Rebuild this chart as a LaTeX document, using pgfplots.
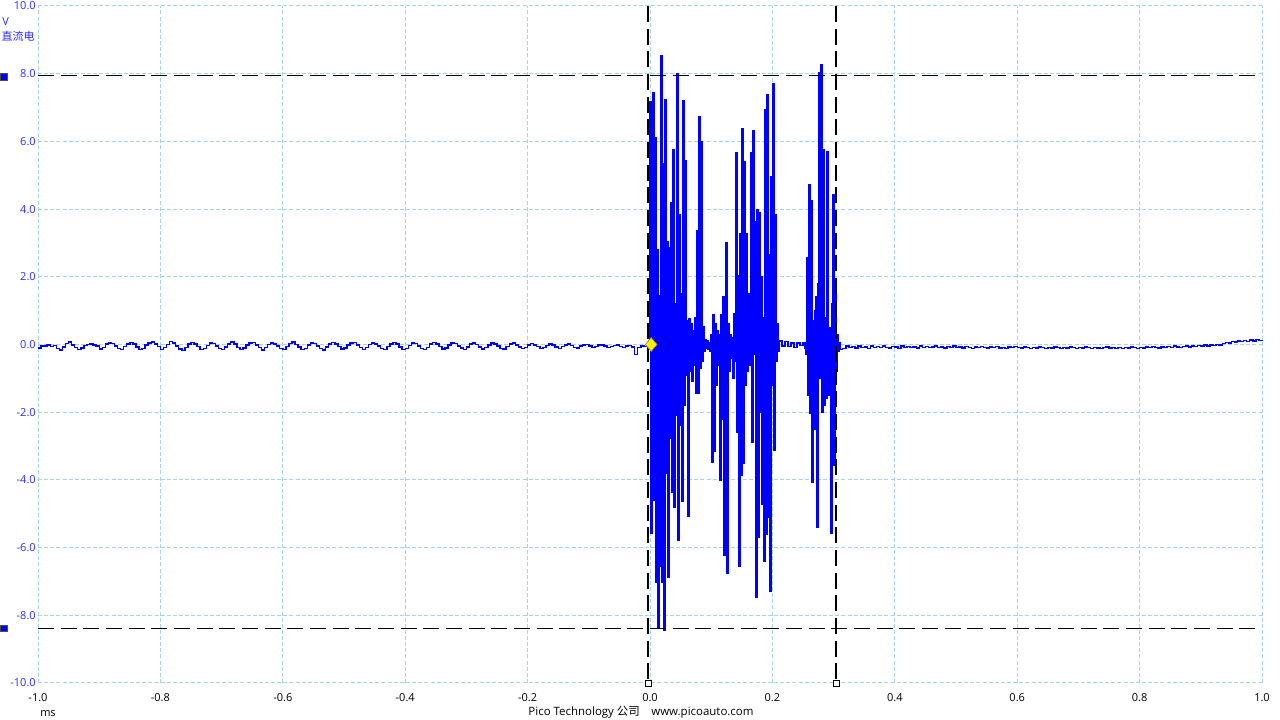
\documentclass[border=0pt]{standalone}
\usepackage{fontspec}
\setmainfont{Open Sans}
\newfontfamily\cjk{Noto Sans CJK SC}
\usepackage{pgfplots}
\pgfplotsset{compat=1.18}
\usetikzlibrary{shapes.geometric}
\definecolor{gridblue}{RGB}{165,212,228}
\definecolor{ticblue}{RGB}{45,45,255}
\definecolor{trace}{RGB}{0,0,255}
\begin{document}
\begin{tikzpicture}
\path[use as bounding box, fill=white] (0,0) rectangle (960pt,540pt);
\begin{axis}[
  at={(28.5pt,27.75pt)}, anchor=south west, scale only axis,
  width=918pt, height=507.75pt,
  xmin=-1, xmax=1, ymin=-10, ymax=10,
  axis line style={draw=none},
  major tick length=0pt,
  xtick={-1,-0.8,-0.6,-0.4,-0.2,0,0.2,0.4,0.6,0.8,1},
  xticklabels={-1.0,-0.8,-0.6,-0.4,-0.2,0.0,0.2,0.4,0.6,0.8,1.0},
  ytick={-10,-8,-6,-4,-2,0,2,4,6,8,10},
  yticklabels={-10.0,-8.0,-6.0,-4.0,-2.0,0.0,2.0,4.0,6.0,8.0,10.0},
  grid=major,
  major grid style={gridblue, line width=0.75pt, dash pattern=on 3pt off 1.6pt},
  tick label style={font=\fontsize{8.25}{10}\selectfont},
  yticklabel style={text=ticblue, inner sep=1.5pt},
  xticklabel style={text=black, yshift=-4pt},
  clip=false,
]
\addplot[trace, line width=1.05pt, const plot, mark=none] coordinates {
(-1.000,-0.10) (-0.995,-0.05) (-0.990,-0.04) (-0.985,-0.02) (-0.980,-0.06) (-0.975,-0.03) (-0.970,-0.11) (-0.965,-0.16) (-0.960,-0.07) (-0.955,0.03)
(-0.950,0.07) (-0.945,-0.01) (-0.940,-0.09) (-0.935,-0.15) (-0.930,-0.10) (-0.925,-0.03) (-0.920,0.00) (-0.915,0.02) (-0.910,-0.01) (-0.905,-0.05)
(-0.900,-0.13) (-0.895,-0.08) (-0.890,0.01) (-0.885,0.05) (-0.880,0.03) (-0.875,-0.04) (-0.870,-0.12) (-0.865,-0.15) (-0.860,-0.06) (-0.855,0.02)
(-0.850,0.06) (-0.845,0.01) (-0.840,-0.07) (-0.835,-0.14) (-0.830,-0.11) (-0.825,-0.02) (-0.820,0.04) (-0.815,0.07) (-0.810,0.02) (-0.805,-0.06)
(-0.800,-0.14) (-0.795,-0.09) (-0.790,0.00) (-0.785,0.08) (-0.780,0.04) (-0.775,-0.05) (-0.770,-0.13) (-0.765,-0.17) (-0.760,-0.08) (-0.755,0.01)
(-0.750,0.06) (-0.745,0.02) (-0.740,-0.06) (-0.735,-0.15) (-0.730,-0.12) (-0.725,-0.03) (-0.720,0.05) (-0.715,0.03) (-0.710,-0.04) (-0.705,-0.11)
(-0.700,-0.15) (-0.695,-0.07) (-0.690,0.02) (-0.685,0.07) (-0.680,0.01) (-0.675,-0.08) (-0.670,-0.14) (-0.665,-0.10) (-0.660,-0.02) (-0.655,0.04)
(-0.650,0.06) (-0.645,-0.01) (-0.640,-0.09) (-0.635,-0.16) (-0.630,-0.09) (-0.625,0.00) (-0.620,0.05) (-0.615,0.02) (-0.610,-0.05) (-0.605,-0.12)
(-0.600,-0.14) (-0.595,-0.06) (-0.590,0.03) (-0.585,0.07) (-0.580,0.00) (-0.575,-0.07) (-0.570,-0.15) (-0.565,-0.11) (-0.560,-0.02) (-0.555,0.05)
(-0.550,0.03) (-0.545,-0.04) (-0.540,-0.11) (-0.535,-0.16) (-0.530,-0.07) (-0.525,0.01) (-0.520,0.06) (-0.515,0.02) (-0.510,-0.06) (-0.505,-0.13)
(-0.500,-0.10) (-0.495,-0.02) (-0.490,0.04) (-0.485,0.06) (-0.480,-0.01) (-0.475,-0.08) (-0.470,-0.15) (-0.465,-0.09) (-0.460,0.00) (-0.455,0.05)
(-0.450,0.02) (-0.445,-0.05) (-0.440,-0.12) (-0.435,-0.14) (-0.430,-0.06) (-0.425,0.02) (-0.420,0.06) (-0.415,0.01) (-0.410,-0.07) (-0.405,-0.14)
(-0.400,-0.11) (-0.395,-0.03) (-0.390,0.04) (-0.385,0.03) (-0.380,-0.04) (-0.375,-0.11) (-0.370,-0.15) (-0.365,-0.08) (-0.360,0.01) (-0.355,0.06)
(-0.350,0.02) (-0.345,-0.06) (-0.340,-0.13) (-0.335,-0.10) (-0.330,-0.02) (-0.325,0.05) (-0.320,0.03) (-0.315,-0.04) (-0.310,-0.10) (-0.305,-0.14)
(-0.300,-0.07) (-0.295,0.01) (-0.290,0.05) (-0.285,0.00) (-0.280,-0.07) (-0.275,-0.13) (-0.270,-0.09) (-0.265,-0.02) (-0.260,0.04) (-0.255,0.02)
(-0.250,-0.05) (-0.245,-0.11) (-0.240,-0.13) (-0.235,-0.06) (-0.230,0.01) (-0.225,0.04) (-0.220,-0.01) (-0.215,-0.07) (-0.210,-0.12) (-0.205,-0.08)
(-0.200,-0.02) (-0.195,0.03) (-0.190,-0.01) (-0.185,-0.06) (-0.180,-0.11) (-0.175,-0.09) (-0.170,-0.03) (-0.165,0.02) (-0.160,-0.02) (-0.155,-0.07)
(-0.150,-0.11) (-0.145,-0.06) (-0.140,-0.02) (-0.135,0.01) (-0.130,-0.03) (-0.125,-0.08) (-0.120,-0.10) (-0.115,-0.05) (-0.110,-0.01) (-0.105,0.00)
(-0.100,-0.04) (-0.095,-0.08) (-0.090,-0.06) (-0.085,-0.02) (-0.080,-0.01) (-0.075,-0.05) (-0.070,-0.08) (-0.065,-0.06) (-0.060,-0.03) (-0.055,-0.02)
(-0.050,-0.06) (-0.045,-0.09) (-0.040,-0.05) (-0.035,-0.03) (-0.030,-0.07) (-0.025,-0.30) (-0.020,-0.08) (-0.015,-0.04) (-0.010,-0.06) (-0.005,-0.03)
(-0.0033,-0.10) (-0.0016,0.12) (0.0000,7.18) (0.0016,-5.58) (0.0033,3.20) (0.0049,7.43) (0.0065,-4.60) (0.0082,6.11) (0.0098,-7.03) (0.0114,2.80)
(0.0131,-8.36) (0.0147,1.45) (0.0163,-6.56) (0.0180,8.52) (0.0196,-7.03) (0.0212,5.35) (0.0229,-8.45) (0.0245,7.24) (0.0261,-3.81) (0.0278,3.04)
(0.0294,-6.88) (0.0310,2.86) (0.0327,-2.78) (0.0343,4.19) (0.0359,-4.37) (0.0376,5.76) (0.0392,-4.82) (0.0408,1.20) (0.0425,-2.10) (0.0441,8.00)
(0.0458,-5.79) (0.0474,3.84) (0.0490,-2.39) (0.0507,1.50) (0.0523,-4.64) (0.0539,7.21) (0.0556,-1.80) (0.0572,5.44) (0.0588,-0.90) (0.0605,0.70)
(0.0621,-5.08) (0.0637,0.75) (0.0654,-0.80) (0.0670,0.60) (0.0686,-1.10) (0.0703,0.40) (0.0719,-0.60) (0.0735,0.80) (0.0752,-1.45) (0.0768,3.37)
(0.0784,-1.45) (0.0801,6.74) (0.0817,-0.70) (0.0833,6.00) (0.0850,-0.50) (0.0866,0.53) (0.0882,-0.20) (0.0899,0.15) (0.0915,-0.10) (0.0931,0.10)
(0.0948,-0.15) (0.0964,0.05) (0.0980,-0.20) (0.0997,0.30) (0.1013,-3.49) (0.1029,0.89) (0.1046,-3.16) (0.1062,0.60) (0.1078,-1.20) (0.1095,0.40)
(0.1111,-0.60) (0.1127,0.30) (0.1144,-4.02) (0.1160,0.89) (0.1176,-2.20) (0.1193,1.42) (0.1209,-6.23) (0.1225,0.50) (0.1242,3.01) (0.1258,-6.77)
(0.1275,0.60) (0.1291,-0.80) (0.1307,0.30) (0.1324,-0.40) (0.1340,0.20) (0.1356,-1.00) (0.1373,0.90) (0.1389,-0.50) (0.1405,5.67) (0.1422,-2.60)
(0.1438,2.04) (0.1454,-6.56) (0.1471,3.28) (0.1487,-3.87) (0.1503,6.38) (0.1520,-3.50) (0.1536,5.41) (0.1552,-1.20) (0.1569,3.28) (0.1585,-0.80)
(0.1601,1.50) (0.1618,-0.60) (0.1634,0.80) (0.1650,5.67) (0.1667,-2.90) (0.1683,6.32) (0.1699,-0.30) (0.1716,3.63) (0.1732,-7.47) (0.1748,3.99)
(0.1765,-5.70) (0.1781,3.90) (0.1797,-2.00) (0.1814,2.00) (0.1830,-4.73) (0.1846,0.80) (0.1863,-6.41) (0.1879,6.94) (0.1895,-5.61) (0.1912,7.39)
(0.1928,-5.11) (0.1944,2.66) (0.1961,-7.30) (0.1977,4.96) (0.1993,-1.20) (0.2010,7.71) (0.2026,-3.13) (0.2042,3.84) (0.2059,-0.50) (0.2075,0.60)
(0.2092,-0.20) (0.2108,0.10) (0.2157,-0.05) (0.2206,0.08) (0.2255,-0.06) (0.2304,0.05) (0.2353,-0.08) (0.2402,0.04) (0.2451,-0.03) (0.2500,0.06)
(0.2533,-0.10) (0.2549,-0.30) (0.2565,2.57) (0.2582,-1.50) (0.2598,4.73) (0.2614,-2.04) (0.2631,4.25) (0.2647,-4.08) (0.2663,0.70) (0.2680,-2.50)
(0.2696,1.00) (0.2712,1.40) (0.2729,-5.41) (0.2745,1.80) (0.2761,8.04) (0.2778,-1.00) (0.2794,8.27) (0.2810,-2.00) (0.2827,5.76) (0.2843,-1.80)
(0.2859,0.80) (0.2876,-1.60) (0.2892,5.70) (0.2908,-1.50) (0.2925,0.50) (0.2941,0.40) (0.2957,-5.58) (0.2974,1.20) (0.2990,4.43) (0.3006,-3.57)
(0.3023,1.53) (0.3039,-0.80) (0.3055,0.30) (0.3072,-0.20) (0.3088,0.05) (0.3105,-0.15)
(0.315,-0.12) (0.320,-0.05) (0.325,-0.09) (0.330,-0.06) (0.335,-0.10) (0.340,-0.04) (0.345,-0.08) (0.350,-0.07) (0.355,-0.11) (0.360,-0.05)
(0.365,-0.08) (0.370,-0.06) (0.375,-0.09) (0.380,-0.04) (0.385,-0.08) (0.390,-0.10) (0.395,-0.06) (0.400,-0.07) (0.405,-0.11) (0.410,-0.05)
(0.415,-0.08) (0.420,-0.06) (0.425,-0.09) (0.430,-0.07) (0.435,-0.10) (0.440,-0.05) (0.445,-0.08) (0.450,-0.06) (0.455,-0.09) (0.460,-0.07)
(0.465,-0.05) (0.470,-0.09) (0.475,-0.07) (0.480,-0.10) (0.485,-0.06) (0.490,-0.08) (0.495,-0.05) (0.500,-0.09) (0.505,-0.07) (0.510,-0.10)
(0.515,-0.06) (0.520,-0.08) (0.525,-0.11) (0.530,-0.07) (0.535,-0.09) (0.540,-0.06) (0.545,-0.08) (0.550,-0.10) (0.555,-0.07) (0.560,-0.09)
(0.565,-0.06) (0.570,-0.10) (0.575,-0.08) (0.580,-0.11) (0.585,-0.07) (0.590,-0.09) (0.595,-0.06) (0.600,-0.08) (0.605,-0.10) (0.610,-0.07)
(0.615,-0.09) (0.620,-0.12) (0.625,-0.08) (0.630,-0.10) (0.635,-0.07) (0.640,-0.09) (0.645,-0.11) (0.650,-0.08) (0.655,-0.10) (0.660,-0.07)
(0.665,-0.09) (0.670,-0.12) (0.675,-0.08) (0.680,-0.10) (0.685,-0.07) (0.690,-0.09) (0.695,-0.11) (0.700,-0.08) (0.705,-0.10) (0.710,-0.07)
(0.715,-0.09) (0.720,-0.11) (0.725,-0.08) (0.730,-0.10) (0.735,-0.12) (0.740,-0.09) (0.745,-0.07) (0.750,-0.10) (0.755,-0.08) (0.760,-0.11)
(0.765,-0.09) (0.770,-0.12) (0.775,-0.08) (0.780,-0.10) (0.785,-0.07) (0.790,-0.09) (0.795,-0.11) (0.800,-0.08) (0.805,-0.10) (0.810,-0.07)
(0.815,-0.09) (0.820,-0.06) (0.825,-0.08) (0.830,-0.10) (0.835,-0.07) (0.840,-0.09) (0.845,-0.06) (0.850,-0.08) (0.855,-0.05) (0.860,-0.07)
(0.865,-0.09) (0.870,-0.06) (0.875,-0.04) (0.880,-0.07) (0.885,-0.05) (0.890,-0.06) (0.895,-0.03) (0.900,-0.05) (0.905,-0.02) (0.910,-0.04)
(0.915,-0.01) (0.920,-0.03) (0.925,0.00) (0.930,-0.02) (0.935,0.03) (0.940,0.06) (0.945,0.04) (0.950,0.08) (0.955,0.07) (0.960,0.10)
(0.965,0.08) (0.970,0.12) (0.975,0.09) (0.980,0.13) (0.985,0.10) (0.990,0.14) (0.995,0.11) (1.000,0.12)
};
% cursors
\draw[black, line width=1.1pt, dash pattern=on 12pt off 5pt] (axis cs:-1,7.95) -- (axis cs:1,7.95);
\draw[black, line width=1.1pt, dash pattern=on 12pt off 5pt] (axis cs:-1,-8.39) -- (axis cs:1,-8.39);
\draw[black, line width=1.1pt, dash pattern=on 12pt off 5pt] (axis cs:-0.003,10) -- (axis cs:-0.003,-10);
\draw[black, line width=1.1pt, dash pattern=on 12pt off 5pt] (axis cs:0.304,10) -- (axis cs:0.304,-10);
\node[draw=black, fill=white, line width=0.6pt, minimum size=4.5pt, inner sep=0pt] at (axis cs:-0.003,-10) {};
\node[draw=black, fill=white, line width=0.6pt, minimum size=4.5pt, inner sep=0pt] at (axis cs:0.304,-10) {};
\node[draw=black!70, fill=blue, line width=0.5pt, minimum size=5pt, inner sep=0pt] at (axis cs:-1.0556,7.9) {};
\node[draw=black!70, fill=blue, line width=0.5pt, minimum size=5pt, inner sep=0pt] at (axis cs:-1.0556,-8.39) {};
\node[diamond, fill=yellow, draw=black!50!yellow, line width=0.5pt, minimum width=9pt, minimum height=10.5pt, inner sep=0pt] at (axis cs:0.002,0) {};
\end{axis}
\node[anchor=west, text=ticblue, font=\fontsize{8.25}{10}\selectfont, inner sep=0pt] at (1.5pt,524pt) {V};
\node[anchor=west, text=ticblue, font=\fontsize{8.25}{10}\selectfont\cjk, inner sep=0pt] at (1pt,513pt) {直流电};
\node[anchor=west, text=black, font=\fontsize{8.25}{10}\selectfont, inner sep=0pt] at (30pt,4.5pt) {ms};
\node[text=black, font=\fontsize{8.6}{10}\selectfont, inner sep=0pt] at (480.75pt,6pt) {Pico Technology {\cjk 公司}\quad www.picoauto.com};
\end{tikzpicture}
\end{document}
